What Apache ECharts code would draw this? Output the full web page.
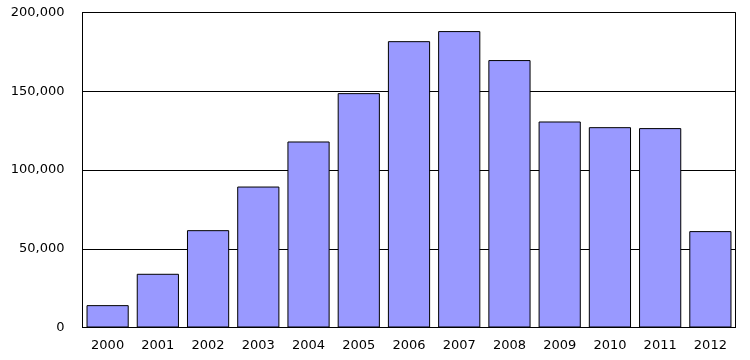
<!DOCTYPE html>
<html><head><meta charset="utf-8">
<script src="https://cdn.jsdelivr.net/npm/echarts@6/dist/echarts.min.js"></script>
<style>html,body{margin:0;padding:0;background:#fff}#c{width:750px;height:360px}</style>
</head><body><div id="c"></div>
<script>
const years = ['2000','2001','2002','2003','2004','2005','2006','2007','2008','2009','2010','2011','2012'];
const values = [14200, 34100, 61800, 89500, 118100, 148800, 181800, 188200, 169800, 130800, 127200, 126600, 61200];
const yTicks = [0, 50000, 100000, 150000, 200000];

const chart = echarts.init(document.getElementById('c'), null, {renderer: 'canvas'});
chart.setOption({
  animation: false,
  grid: {left: 82.5, top: 12.5, right: 14.5, bottom: 32.5, show: true, borderColor: '#000', borderWidth: 1, backgroundColor: 'transparent'},
  xAxis: {
    type: 'category', data: years,
    axisLine: {lineStyle: {color: '#000', width: 1}},
    axisTick: {show: false},
    axisLabel: {color: '#000', fontFamily: 'DejaVu Sans', fontSize: 13, margin: 12}
  },
  yAxis: {
    type: 'value', min: yTicks[0], max: yTicks[yTicks.length - 1], interval: 50000,
    axisLine: {show: true, lineStyle: {color: '#000', width: 1}},
    axisTick: {show: false},
    splitLine: {lineStyle: {color: '#000', width: 1}},
    axisLabel: {color: '#000', fontFamily: 'DejaVu Sans', fontSize: 13, margin: 18,
      formatter: v => v.toLocaleString('en-US')}
  },
  series: [{
    type: 'bar', data: values, barCategoryGap: '16%',
    itemStyle: {color: '#9999FF', borderColor: '#000', borderWidth: 1}
  }]
});
</script></body></html>
